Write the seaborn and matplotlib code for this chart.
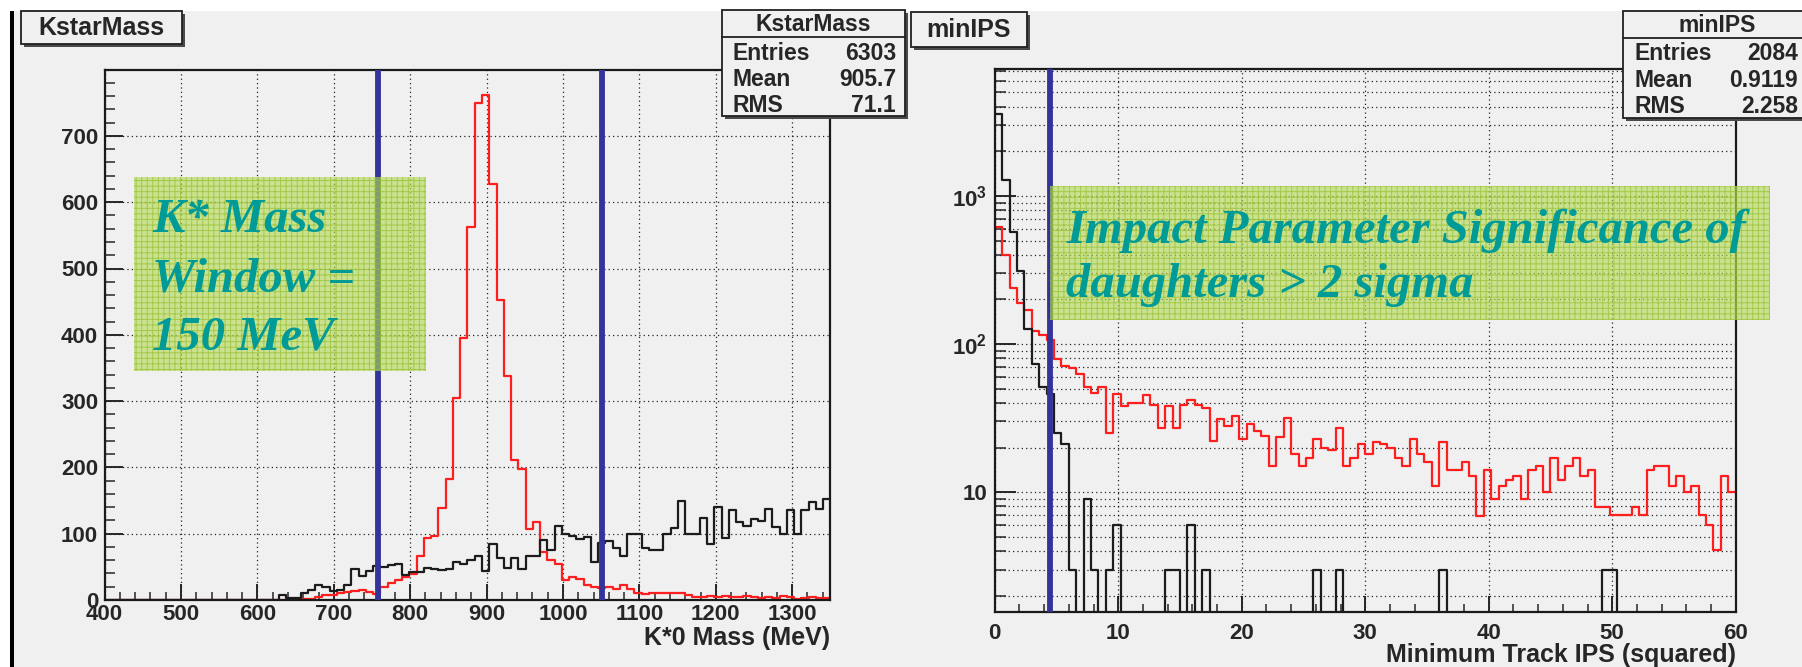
import numpy as np
import pandas as pd
import matplotlib
matplotlib.use("Agg")
import matplotlib.pyplot as plt
from matplotlib.patches import Rectangle
from matplotlib.lines import Line2D
from matplotlib.ticker import MultipleLocator, FixedLocator, FixedFormatter, LogLocator, NullFormatter
import seaborn as sns

# --- KstarMass panel: 100 bins, 400-1350 MeV ---
mass_range = (400, 1350)
kstar_signal = [0] * 26 + [
    1, 1, 2, 4, 7, 8, 10, 12, 13, 15, 12, 9,
    19, 25, 30, 34, 39, 66, 93, 97, 139, 183, 305, 395, 563, 749, 762, 628,
    452, 338, 211, 198, 107, 117, 72, 60, 55, 30, 35, 32, 22, 20, 18, 20,
    17, 23, 16, 11, 9, 10, 11, 11, 11, 10, 7, 5, 5, 6, 4, 6, 5, 5, 6, 4,
    3, 4, 3, 6, 5, 2, 3, 4, 3, 3]
kstar_background = [0] * 24 + [
    8, 3, 3, 10, 15, 23, 19, 14, 15, 23, 47, 36, 44, 52, 50, 53, 55, 38,
    42, 42, 49, 47, 45, 47, 57, 54, 61, 66, 43, 85, 63, 49, 63, 47, 66, 67,
    91, 76, 111, 100, 97, 92, 95, 57, 86, 89, 79, 66, 100, 100, 79, 75, 75,
    100, 108, 149, 100, 100, 123, 85, 140, 93, 136, 118, 111, 122, 119, 138,
    110, 100, 135, 100, 135, 148, 138, 152]
kstar_cuts = [757.5, 1050.5]
kstar_stats = ["KstarMass", "6303", "905.7", "71.1"]

# --- minIPS panel: 100 bins, 0-60 ---
ips_range = (0, 60)
ips_signal = [
    613, 398, 239, 188, 170, 122, 115, 106, 79, 71, 69, 63, 51, 47, 51, 25,
    46, 38, 40, 40, 45, 39, 27, 38, 27, 39, 42, 39, 37, 22, 31, 28, 32.5,
    22.7, 29, 25.9, 24, 15, 23.7, 31.6, 18, 15, 17, 22.7, 19.8, 19.3, 27,
    15, 17, 21, 18, 21.8, 21, 19.8, 16.9, 15, 22.7, 18, 15.9, 11, 21.8, 14,
    14, 15.9, 12.8, 6.9, 14, 9, 11, 12.1, 12.8, 9, 14, 15, 10, 17, 12.1, 15,
    17, 12.8, 14, 7.9, 7.9, 7.0, 7.0, 7.0, 7.9, 7.0, 14, 15, 15, 11, 12.8,
    10, 11, 7.0, 6.0, 4.05, 12.8, 10]
ips_background = [
    3600, 1280, 572, 313, 126, 73, 51, 46, 25, 21, 3, 0, 9, 3, 0, 3, 6,
    0, 0, 0, 0, 0, 0, 3, 3, 0, 6, 0, 3] + [0] * 14 + [3, 0, 0, 3] + [0] * 13 + \
    [3] + [0] * 21 + [3, 3] + [0] * 16
ips_cut = 4.45
ips_stats = ["minIPS", "2084", "0.9119", "2.258"]

stat_names = ["Entries", "Mean", "RMS"]
kstar_note = ["K* Mass", "Window =", "150 MeV"]
ips_note = ["Impact Parameter Significance of", "daughters > 2 sigma"]

PANEL = "#f0f0f0"
RED = "#ff1e1e"
DARK = "#1c1c1c"
CUT = "#333399"
TEAL = "#009b96"

sns.set_style("ticks")
plt.rcParams["font.family"] = ["Liberation Sans", "DejaVu Sans"]
plt.rcParams["font.weight"] = "bold"
plt.rcParams["mathtext.fontset"] = "custom"
plt.rcParams["mathtext.rm"] = "Liberation Sans:bold"
plt.rcParams["mathtext.it"] = "Liberation Sans:bold"
plt.rcParams["mathtext.bf"] = "Liberation Sans:bold"
plt.rcParams["hatch.linewidth"] = 0.7

W, H = 1802, 667
fig = plt.figure(figsize=(W / 100, H / 100), dpi=100, facecolor="white")


def fx(px):
    return px / W


def fy(py):
    return 1 - py / H


def fig_rect(x0, y0, x1, y1, **kw):
    r = Rectangle((fx(x0), fy(y1)), (x1 - x0) / W, (y1 - y0) / H,
                  transform=fig.transFigure, **kw)
    fig.patches.append(r)
    return r


def framed_box(x0, y0, x1, y1):
    fig_rect(x0 + 3, y0 + 3, x1 + 3, y1 + 3, facecolor="#4a4a4a", edgecolor="none", zorder=7)
    fig_rect(x0, y0, x1, y1, facecolor=PANEL, edgecolor="#202020", linewidth=1.3, zorder=8)


# canvas background and slide border
fig_rect(12, 11, 1802, 667, facecolor=PANEL, edgecolor="none", zorder=-10)
fig_rect(10, 11, 14, 667, facecolor="black", edgecolor="none", zorder=-9)

grid_kw = dict(color="black", linestyle=(0, (1, 2.5)), linewidth=0.9, alpha=0.85)


def style_axes(ax):
    ax.set_facecolor(PANEL)
    for s in ax.spines.values():
        s.set_linewidth(1.6)
        s.set_color("#1a1a1a")
    ax.set_xlabel("")
    ax.set_ylabel("")


def draw_hist(ax, counts, rng, color):
    n = len(counts)
    edges = np.linspace(rng[0], rng[1], n + 1)
    df = pd.DataFrame({"x": 0.5 * (edges[:-1] + edges[1:]),
                       "w": np.asarray(counts, float)})
    sns.histplot(data=df, x="x", weights="w", bins=n, binrange=rng,
                 element="step", fill=False, color=color, linewidth=1.6, ax=ax)


# ---------------- left panel ----------------
ax1 = fig.add_axes([fx(104.6), fy(600), (830.4 - 104.6) / W, (600 - 69.6) / H])
draw_hist(ax1, kstar_signal, mass_range, RED)
draw_hist(ax1, kstar_background, mass_range, DARK)
for c in kstar_cuts:
    ax1.axvline(c, color=CUT, linewidth=4.2, zorder=4)
ax1.set_xlim(*mass_range)
ax1.set_ylim(0, 800)
ax1.xaxis.set_major_locator(MultipleLocator(100))
ax1.xaxis.set_minor_locator(MultipleLocator(20))
ax1.yaxis.set_major_locator(FixedLocator(list(range(0, 800, 100))))
ax1.yaxis.set_minor_locator(MultipleLocator(20))
ax1.grid(True, which="major", **grid_kw)
style_axes(ax1)
ax1.tick_params(axis="x", which="major", direction="in", length=11.5, width=1.4, labelsize=16, pad=3)
ax1.tick_params(axis="x", which="minor", direction="in", length=5.5, width=1.1)
ax1.tick_params(axis="y", which="major", direction="in", length=13, width=1.4, labelsize=16, pad=4.7)
ax1.tick_params(axis="y", which="minor", direction="in", length=7, width=1.1)

# ---------------- right panel ----------------
ax2 = fig.add_axes([fx(994.7), fy(612), (1735.7 - 994.7) / W, (612 - 69) / H])
draw_hist(ax2, ips_signal, ips_range, RED)
draw_hist(ax2, ips_background, ips_range, DARK)
ax2.axvline(ips_cut, color=CUT, linewidth=4.2, zorder=4)
ax2.set_yscale("log")
ax2.set_xlim(*ips_range)
ax2.set_ylim(1.55, 7200)
ax2.xaxis.set_major_locator(MultipleLocator(10))
ax2.xaxis.set_minor_locator(MultipleLocator(2))
ax2.yaxis.set_major_locator(FixedLocator([10, 100, 1000]))
ax2.yaxis.set_major_formatter(FixedFormatter(["10", "$10^{2}$", "$10^{3}$"]))
ax2.yaxis.set_minor_locator(LogLocator(base=10, subs=np.arange(2, 10), numticks=12))
ax2.yaxis.set_minor_formatter(NullFormatter())
ax2.grid(True, which="major", axis="x", **grid_kw)
ax2.grid(True, which="both", axis="y", **grid_kw)
style_axes(ax2)
ax2.tick_params(axis="x", which="major", direction="in", length=11.5, width=1.4, labelsize=16, pad=8)
ax2.tick_params(axis="x", which="minor", direction="in", length=5.5, width=1.1)
ax2.tick_params(axis="y", which="major", direction="in", length=15, width=1.4, labelsize=16, pad=5.5)
ax2.tick_params(axis="y", which="minor", direction="in", length=8, width=1.1)

# axis titles (ROOT style, right aligned under the frame)
fig.text(fx(830), fy(638), "K*0 Mass (MeV)", ha="right", va="center", fontsize=18, zorder=9)
fig.text(fx(1736), fy(655), "Minimum Track IPS (squared)", ha="right", va="center", fontsize=18, zorder=9)

# histogram title boxes
framed_box(21, 11, 182, 44)
fig.text(fx(101.5), fy(28), kstar_stats[0], ha="center", va="center", fontsize=18, zorder=9)
framed_box(911, 12, 1027, 47)
fig.text(fx(969), fy(30), ips_stats[0], ha="center", va="center", fontsize=18, zorder=9)


# stats boxes
def stats_box(x0, x1, y0, y1, sep, rows_y, lab_x, val_x, title_x, values):
    framed_box(x0, y0, x1, y1)
    fig.lines.append(Line2D([fx(x0), fx(x1)], [fy(sep), fy(sep)], transform=fig.transFigure,
                            color="#202020", linewidth=1.3, zorder=9))
    fig.text(fx(title_x), fy((y0 + sep) / 2 + 1), values[0], ha="center", va="center",
             fontsize=16.5, zorder=9)
    for name, val, ry in zip(stat_names, values[1:], rows_y):
        fig.text(fx(lab_x), fy(ry), name, ha="left", va="center", fontsize=16.5, zorder=9)
        fig.text(fx(val_x), fy(ry), val, ha="right", va="center", fontsize=16.5, zorder=9)


stats_box(722, 905, 10, 116, 37, [53, 79.5, 105.5], 733, 896, 813, kstar_stats)
stats_box(1623, 1830, 11, 118, 38, [54, 80.5, 106.5], 1635, 1798, 1717, ips_stats)

# green annotation boxes
for (x0, y0, x1, y1) in [(134, 177, 426, 371), (1050, 186, 1770, 320)]:
    fig_rect(x0, y0, x1, y1, facecolor="#b4da56", edgecolor="none", alpha=0.62, zorder=5)
    fig_rect(x0, y0, x1, y1, facecolor="none", edgecolor="#93be2c", hatch="+++",
             linewidth=0, alpha=0.7, zorder=5.1)

note_kw = dict(family=["Liberation Serif", "DejaVu Serif"], style="italic", weight="bold",
               fontsize=35, color=TEAL, ha="left", va="baseline", zorder=9)
for line, yb in zip(kstar_note, [232, 291, 349]):
    fig.text(fx(152), fy(yb), line, **note_kw)
for line, yb in zip(ips_note, [243, 297]):
    fig.text(fx(1066), fy(yb), line, **note_kw)

fig.savefig("out.png", dpi=100, facecolor="white")
